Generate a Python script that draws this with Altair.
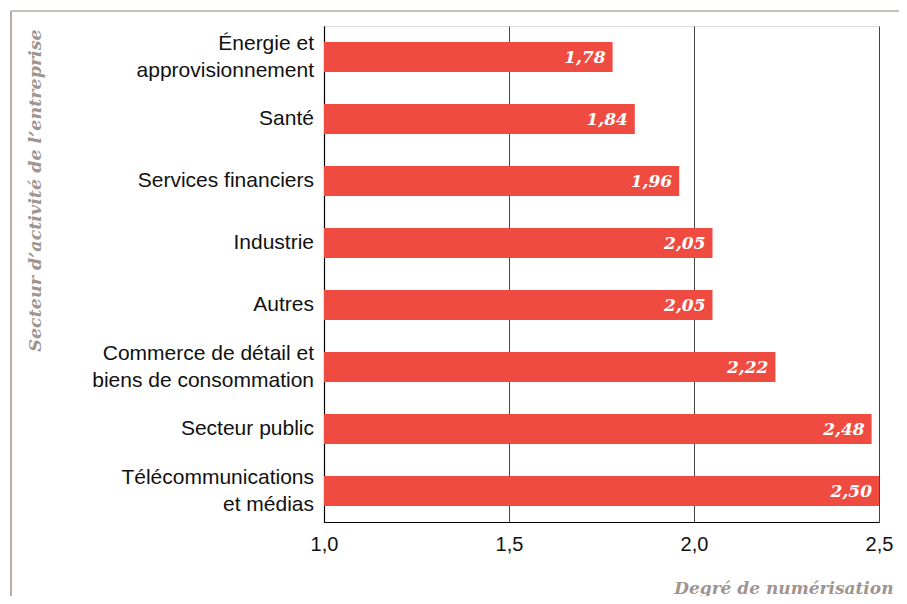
import altair as alt
import pandas as pd

categories = [
    "Énergie et |approvisionnement",
    "Santé",
    "Services financiers",
    "Industrie",
    "Autres",
    "Commerce de détail et|biens de consommation",
    "Secteur public",
    "Télécommunications|et médias",
]
values = [1.78, 1.84, 1.96, 2.05, 2.05, 2.22, 2.48, 2.50]
x_ticks = [1.0, 1.5, 2.0, 2.5]

df = pd.DataFrame({"cat": categories, "val": values})
df["lab"] = [f"{v:.2f}".replace(".", ",") for v in values]
df["multi"] = ["|" in c for c in categories]

W, H = 555, 496
RED = "#F04B40"
GRAY = "#A0958E"
SERIF = "DejaVu Serif"
SANS = "Liberation Sans"

y_enc = alt.Y(
    "cat:N",
    sort=categories,
    scale=alt.Scale(paddingInner=0.5, paddingOuter=0.25),
    axis=alt.Axis(
        title="Secteur d\u2019activité de l\u2019entreprise",
        titleFont=SERIF, titleFontStyle="italic", titleFontWeight="bold",
        titleFontSize=17.5, titleColor=GRAY,
        titleAngle=270, titleAlign="center", titleBaseline="middle",
        titleX=-289, titleY=164,
        labels=False,
        ticks=False, domainColor="#000000", domainWidth=1.2,
    ),
)

x_scale = alt.Scale(domain=[1.0, 2.5], zero=False, nice=False)

bars = alt.Chart(df).mark_bar(color=RED, size=30).encode(
    x=alt.X(
        "val:Q",
        scale=x_scale,
        axis=alt.Axis(
            values=x_ticks,
            labelExpr="replace(format(datum.value, '.1f'), '.', ',')",
            labelFont=SANS, labelFontSize=20, labelColor="#111111",
            labelPadding=12, ticks=False,
            grid=True, gridColor="#444444", gridWidth=1,
            domainColor="#000000", domainWidth=1.2,
            labelFlush=False,
            title="Degré de numérisation",
            titleFont=SERIF, titleFontStyle="italic", titleFontWeight="bold",
            titleFontSize=17, titleColor=GRAY,
            titleAlign="right", titleBaseline="middle",
            titleX=569, titleY=66,
        ),
    ),
    x2=alt.datum(1.0),
    y=y_enc,
)

texts = alt.Chart(df).mark_text(
    align="right", baseline="middle", dx=-7, dy=1,
    font=SERIF, fontStyle="italic", fontWeight="bold", fontSize=17, color="white",
).encode(
    x=alt.X("val:Q", scale=x_scale),
    y=alt.Y("cat:N", sort=categories),
    text="lab:N",
)

label_base = alt.Chart(df).encode(
    x=alt.value(-10),
    y=alt.Y("cat:N", sort=categories),
    text="cat:N",
)
single_labels = label_base.transform_filter("!datum.multi").mark_text(
    align="right", baseline="middle", font=SANS, fontSize=21, color="#111111",
)
multi_labels = label_base.transform_filter("datum.multi").mark_text(
    align="right", baseline="middle", lineBreak="|", lineHeight=27, dy=-13,
    font=SANS, fontSize=21, color="#111111",
)

frame_df = pd.DataFrame({"k": [0]})
top_line = alt.Chart(frame_df).mark_rule(color="#B5ACA5", strokeWidth=1.5).encode(
    x=alt.value(-313), x2=alt.value(600), y=alt.value(-15)
)
left_line = alt.Chart(frame_df).mark_rule(color="#B5ACA5", strokeWidth=2).encode(
    x=alt.value(-313), y=alt.value(-15), y2=alt.value(600)
)

chart = alt.layer(bars, texts, single_labels, multi_labels, top_line, left_line).properties(
    width=W, height=H,
    autosize=alt.AutoSizeParams(type="none"),
    padding={"left": 316, "top": 18, "right": 20, "bottom": 74},
).configure_view(stroke=None).configure(background="white")

chart.save("out.html", embed_options={"renderer": "svg", "actions": False})
